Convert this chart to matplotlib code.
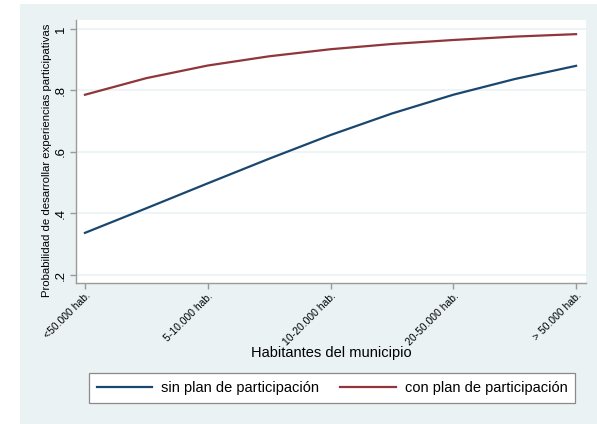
import matplotlib
matplotlib.use("Agg")
import matplotlib.pyplot as plt
from matplotlib.patches import Rectangle

plt.rcParams['font.family'] = ['Liberation Sans', 'DejaVu Sans']

# Data
categories = ["<50.000 hab.", "5-10.000 hab.", "10-20.000 hab.", "20-50.000 hab.", "> 50.000 hab."]
x_pos = [0, 0.5, 1, 1.5, 2, 2.5, 3, 3.5, 4]
sin_plan = [0.337, 0.417, 0.498, 0.578, 0.655, 0.725, 0.786, 0.837, 0.880]
con_plan = [0.786, 0.840, 0.881, 0.911, 0.934, 0.951, 0.964, 0.975, 0.983]
y_ticks = [0.2, 0.4, 0.6, 0.8, 1.0]
y_ticklabels = [".2", ".4", ".6", ".8", "1"]

BG = "#EAF2F3"
BLUE = "#1A476F"
RED = "#90353B"

W, H = 597, 424
fig = plt.figure(figsize=(W / 100, H / 100), dpi=100)
fig.patch.set_facecolor("white")
# outer graph region
fig.patches.append(Rectangle((20 / W, 0.5 / H), (W - 20) / W, (H - 4.5) / H,
                             transform=fig.transFigure, facecolor=BG,
                             edgecolor="none", zorder=-10))

ax = fig.add_axes([76 / W, 1 - 283 / H, (586 - 76) / W, (283 - 20) / H])
ax.set_zorder(1)
ax.set_facecolor("white")

for yt in y_ticks:
    ax.axhline(yt, color=BG, lw=1.2, zorder=1)

ax.plot(x_pos, sin_plan, color=BLUE, lw=1.6, label="sin plan de participación", zorder=3)
ax.plot(x_pos, con_plan, color=RED, lw=1.6, label="con plan de participación", zorder=3)

ax.set_xlim(-0.073, 4.081)
ax.set_ylim(0.174, 1.029)

ax.set_yticks(y_ticks)
ax.set_yticklabels(y_ticklabels, rotation=90, va="center", fontsize=9.5)
ax.set_xticks(range(len(categories)))
ax.set_xticklabels(categories, rotation=45, ha="right", rotation_mode="anchor", fontsize=7.5)

for s in ["top", "right"]:
    ax.spines[s].set_visible(False)
for s in ["left", "bottom"]:
    ax.spines[s].set_color("#9a9a9a")
    ax.spines[s].set_linewidth(1.0)
ax.tick_params(axis="both", color="#9a9a9a", length=4.5, width=1.0, pad=2)
ax.tick_params(axis="x", pad=1)

fig.text(47 / W, 1 - 160 / H, "Probabilidad de desarrollar experiencias participativas",
         rotation=90, ha="center", va="center", fontsize=8.2)
fig.text(331 / W, 1 - 353 / H, "Habitantes del municipio",
         ha="center", va="center", fontsize=10.5)

leg = fig.legend(loc="center", bbox_to_anchor=(332 / W, 1 - 388 / H), ncol=2,
                 fontsize=10.5, frameon=True, fancybox=False, handlelength=3.8,
                 columnspacing=1.45, handletextpad=0.62, borderpad=0.55,
                 borderaxespad=0, framealpha=1)
leg.get_frame().set_edgecolor("#8a8a8a")
leg.get_frame().set_linewidth(0.9)
leg.get_frame().set_facecolor("white")

fig.savefig("out.png", dpi=100, facecolor=fig.get_facecolor())
